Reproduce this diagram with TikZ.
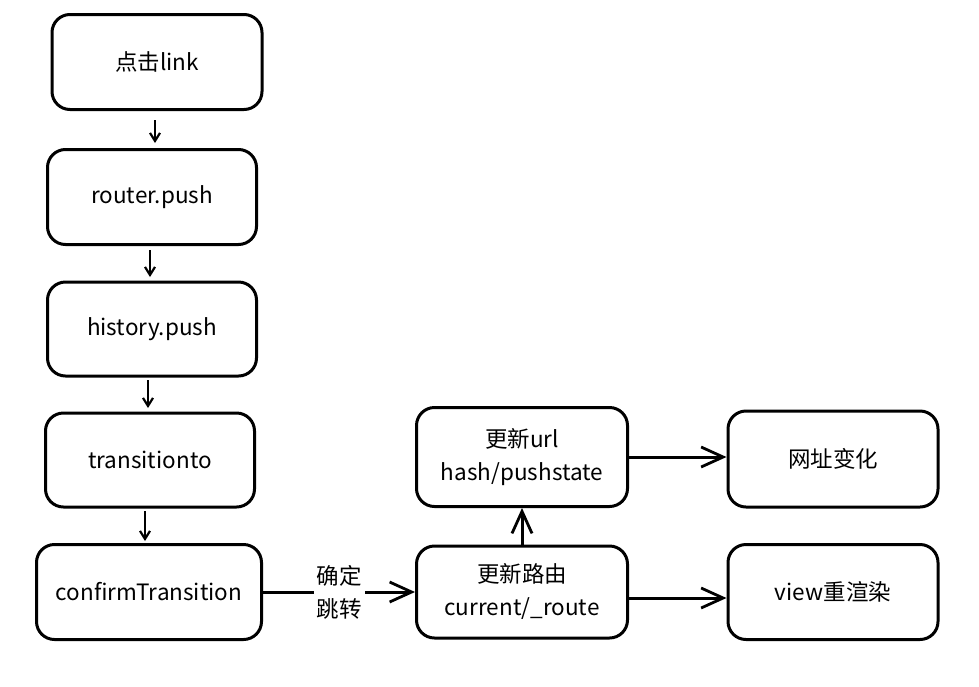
\documentclass[tikz,border=0pt]{standalone}
\usepackage{fontspec}
\setmainfont{Noto Sans CJK SC}
\usetikzlibrary{arrows.meta}
\begin{document}
\begin{tikzpicture}[x=1pt,y=-1pt,
  box/.style={draw=black,line width=3pt,rounded corners=18pt,fill=white,align=center,font=\fontsize{22.5}{33}\selectfont},
  conn/.style={line width=2.4pt,-{Straight Barb[length=8pt,width=10pt,line width=2.2pt]}},
  bigconn/.style={line width=3pt,-{Straight Barb[length=22pt,width=20pt,line width=2.8pt]}}]
\useasboundingbox (0,0) rectangle (979,686);
\path[fill=white] (0,0) rectangle (979,686);
\node[box,minimum width=210pt,minimum height=95pt] (a) at (157,62) {点击link};
\node[box,minimum width=209pt,minimum height=95pt] (b) at (152,197) {router.push};
\node[box,minimum width=209pt,minimum height=94pt] (c) at (152,329) {history.push};
\node[box,minimum width=209pt,minimum height=94pt] (d) at (150,460) {transitionto};
\node[box,minimum width=225pt,minimum height=95pt] (e) at (149,592) {confirmTransition};
\node[box,minimum width=211pt,minimum height=92pt] (f) at (522,592) {更新路由\\current/\_route};
\node[box,minimum width=211pt,minimum height=99pt] (g) at (522,457) {更新url\\hash/pushstate};
\node[box,minimum width=210pt,minimum height=96pt] (h) at (833,459) {网址变化};
\node[box,minimum width=210pt,minimum height=95pt] (i) at (833,592) {view重渲染};
\draw[conn] (155,120) -- (155,143);
\draw[conn] (150,250) -- (150,277);
\draw[conn] (148,380) -- (148,408);
\draw[conn] (145,511) -- (145,541);
\draw[bigconn] (e.east) -- node[fill=white,inner sep=3pt,align=center,font=\fontsize{22.5}{33}\selectfont] (lbl) {确定\\跳转} (f.west);
\draw[bigconn] (f.north) -- (g.south);
\draw[bigconn] (g.east) -- (g.east -| h.west);
\draw[bigconn] ([yshift=-6pt]f.east) -- ([yshift=-6pt]f.east -| i.west);
\end{tikzpicture}
\end{document}
